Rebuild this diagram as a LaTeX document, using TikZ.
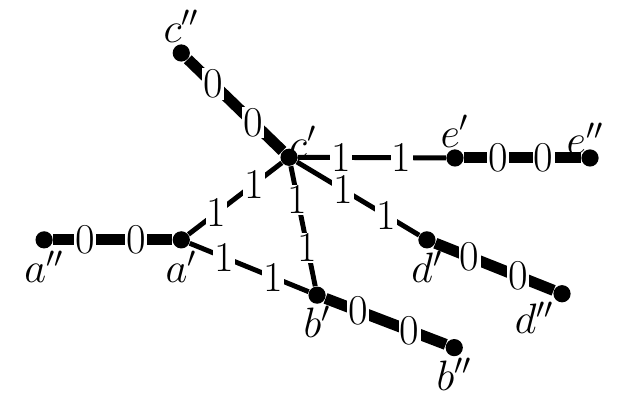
\documentclass[tikz,border=0pt]{standalone}
\usepackage{tikz}
\usetikzlibrary{backgrounds}

\begin{document}
\begin{tikzpicture}[
		vertex/.style={circle,fill=black,inner sep=0pt,minimum size=7pt},
		heavy/.style={line width=4.5pt},
		light/.style={line width=2pt},
		wt/.style={fill=white,inner sep=0.5pt,font=\LARGE},
		vlabel/.style={font=\LARGE,inner sep=0.5pt}]
		\useasboundingbox (0,0) rectangle (8.93,5.957);

		% vertices
		\node[vertex,label={[vlabel]above:$c''$}] (cpp) at (2.59,5.2) {};
		\node[vertex,label={[vlabel,label distance=-5pt]60:$c'$}] (cp) at (4.13,3.71) {};
		\node[vertex,label={[vlabel]above:$e'$}] (ep) at (6.50,3.70) {};
		\node[vertex,label={[vlabel,label distance=-3pt,xshift=-2pt]above:$e''$}] (epp) at (8.43,3.70) {};
		\node[vertex,label={[vlabel]below:$a''$}] (app) at (0.63,2.53) {};
		\node[vertex,label={[vlabel]below:$a'$}] (ap) at (2.59,2.53) {};
		\node[vertex,label={[vlabel]below:$d'$}] (dp) at (6.10,2.53) {};
		\node[vertex,label={[vlabel]below left:$d''$}] (dpp) at (8.03,1.76) {};
		\node[vertex,label={[vlabel]below:$b'$}] (bp) at (4.53,1.74) {};
		\node[vertex,label={[vlabel]below:$b''$}] (bpp) at (6.49,0.99) {};

		\begin{scope}[on background layer]
		% heavy edges
		\draw[heavy] (cpp) -- node[wt,pos=0.27]{0} node[wt,pos=0.69]{0} (cp);
		\draw[heavy] (app) -- node[wt,pos=0.27]{0} node[wt,pos=0.7]{0} (ap);
		\draw[heavy] (ep) -- node[wt,pos=0.29]{0} node[wt,pos=0.68]{0} (epp);
		\draw[heavy] (dp) -- node[wt,pos=0.29]{0} node[wt,pos=0.7]{0} (dpp);
		\draw[heavy] (bp) -- node[wt,pos=0.27]{0} node[wt,pos=0.7]{0} (bpp);

		% light edges
		\draw[light] (cp) -- node[wt,pos=0.29]{1} node[wt,pos=0.7]{1} (ep);
		\draw[light] (cp) -- node[wt,pos=0.38]{1} node[wt,pos=0.73]{1} (dp);
		\draw[light] (cp) -- node[wt,pos=0.28]{1} node[wt,pos=0.68]{1} (bp);
		\draw[light] (ap) -- node[wt,pos=0.3]{1} node[wt,pos=0.7]{1} (cp);
		\draw[light] (ap) -- node[wt,pos=0.29]{1} node[wt,pos=0.7]{1} (bp);
		\end{scope}
\end{tikzpicture}
\end{document}
